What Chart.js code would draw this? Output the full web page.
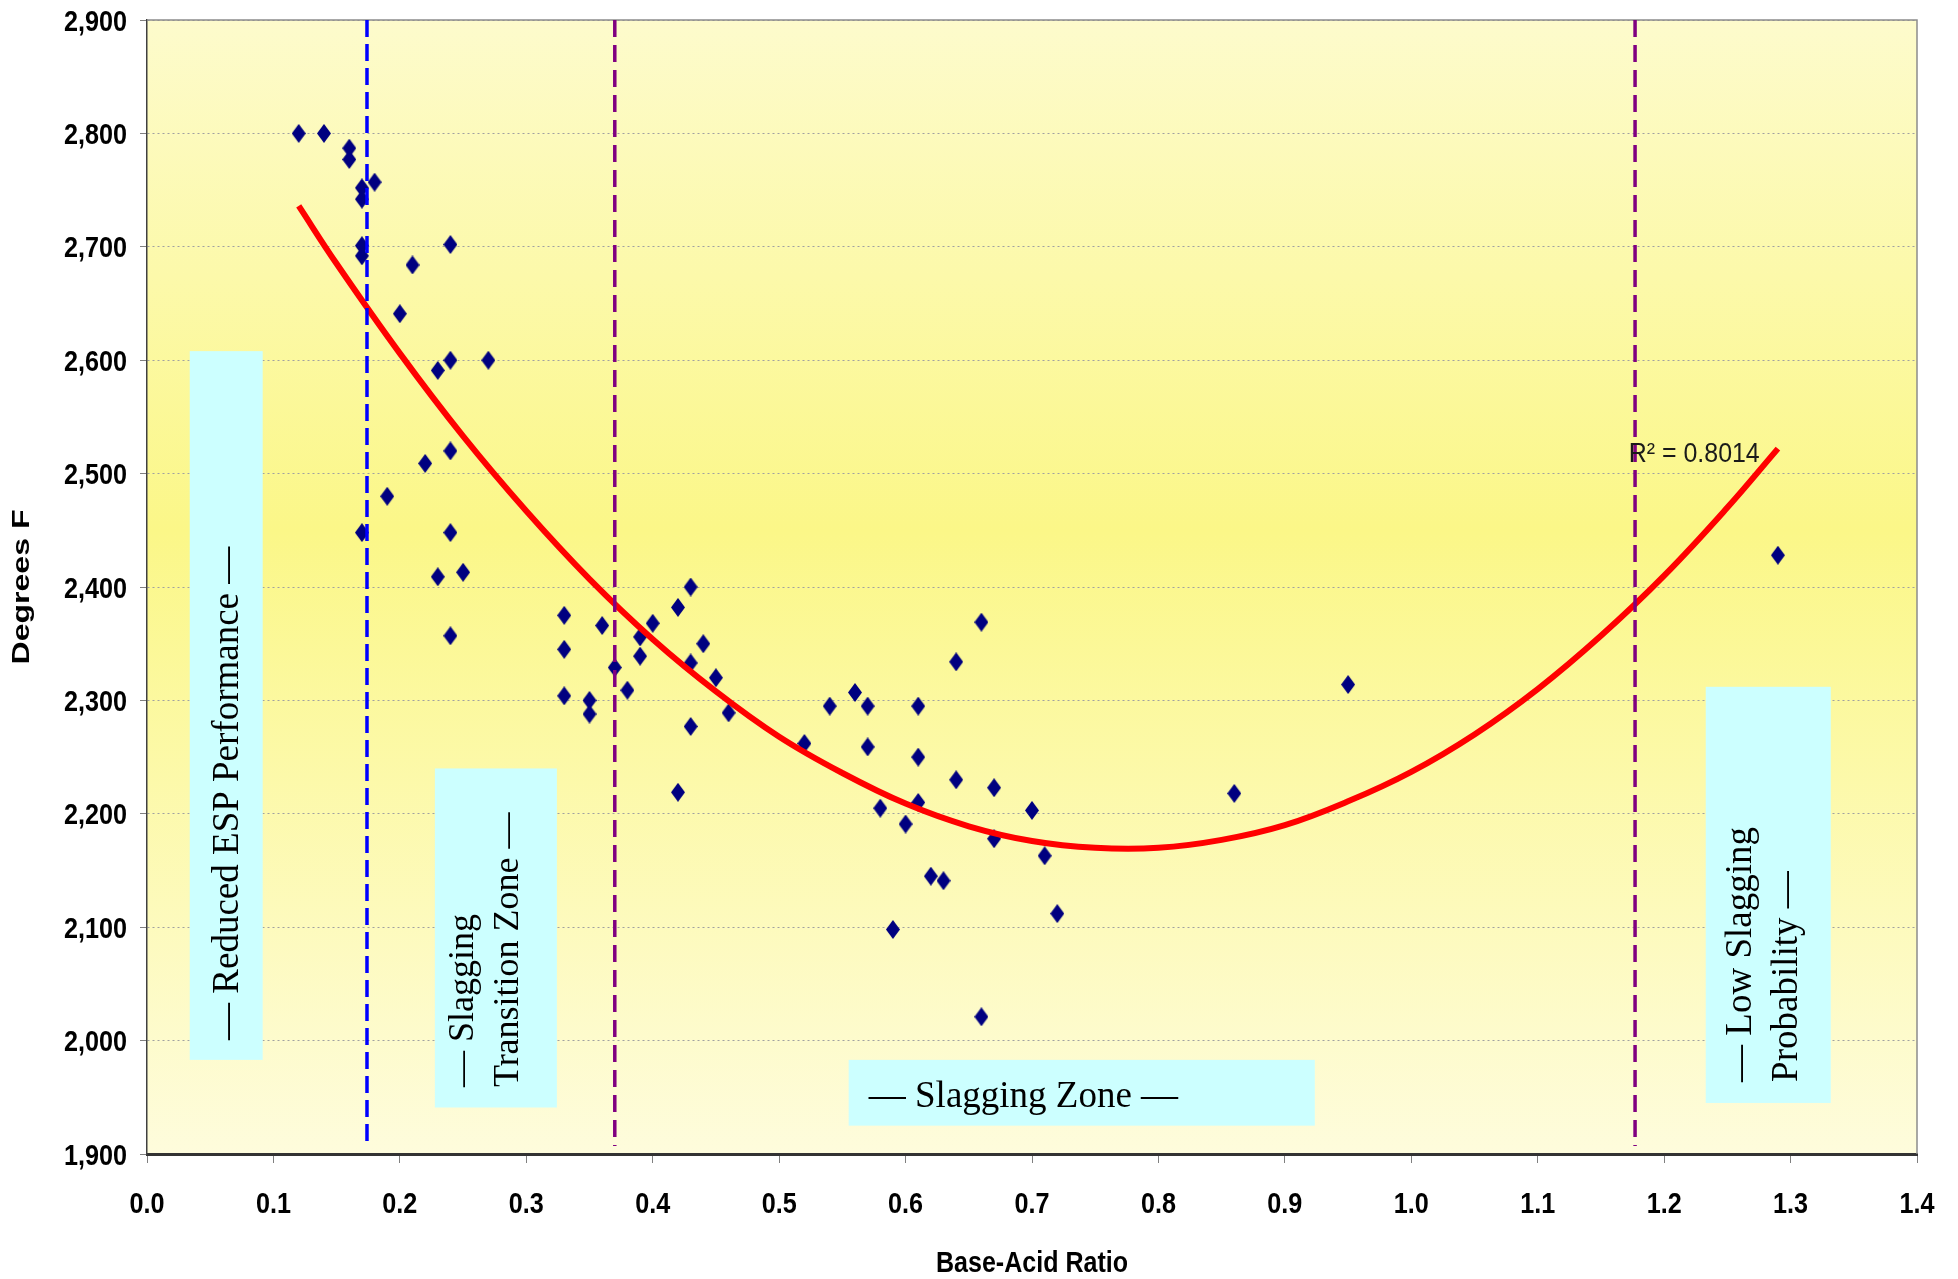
<!DOCTYPE html>
<html>
<head>
<meta charset="utf-8">
<title>Base-Acid Ratio vs Degrees F</title>
<script src="https://cdn.jsdelivr.net/npm/chart.js@4.4.1/dist/chart.umd.min.js"></script>
<style>
  html, body { margin:0; padding:0; background:#fff; }
  #wrap { width:1958px; height:1279px; position:relative; }
</style>
</head>
<body>
<div id="wrap"><canvas id="chart"></canvas></div>
<script>
// --- data ---
const ratioX = [0.12, 0.14, 0.16, 0.16, 0.17, 0.17, 0.18, 0.17, 0.17, 0.24,
                0.21, 0.20, 0.24, 0.23, 0.27, 0.22, 0.24, 0.19, 0.17, 0.24,
                0.23, 0.25, 0.24, 0.33, 0.33, 0.33, 0.36, 0.35, 0.35, 0.37,
                0.38, 0.39, 0.39, 0.40, 0.42, 0.43, 0.43, 0.44, 0.45, 0.46,
                0.43, 0.42, 0.52, 0.54, 0.56, 0.57, 0.57, 0.61, 0.61, 0.61,
                0.58, 0.60, 0.62, 0.63, 0.59, 0.64, 0.66, 0.64, 0.67, 0.67,
                0.70, 0.71, 0.72, 0.66, 0.86, 0.95, 1.29];
const degreesF = [2800, 2800, 2787, 2777, 2752, 2742, 2757, 2701, 2692, 2702,
                  2684, 2641, 2600, 2591, 2600, 2509, 2520, 2480, 2448, 2448,
                  2409, 2413, 2357, 2375, 2345, 2304, 2366, 2300, 2288, 2329,
                  2309, 2356, 2339, 2368, 2382, 2400, 2333, 2350, 2320, 2289,
                  2277, 2219, 2262, 2295, 2307, 2295, 2259, 2295, 2250, 2210,
                  2205, 2191, 2145, 2141, 2098, 2334, 2369, 2230, 2223, 2178,
                  2203, 2163, 2112, 2021, 2218, 2314, 2428];

// red trend curve
const fitX = [0.12, 0.15, 0.20, 0.25, 0.30, 0.35, 0.40, 0.45, 0.50, 0.55, 0.60, 0.65, 0.70,
              0.75, 0.80, 0.85, 0.90, 0.95, 1.00, 1.05, 1.10, 1.15, 1.20, 1.25, 1.29];
const fitF = [2736, 2685, 2606, 2533, 2467, 2407, 2354, 2308, 2268, 2236, 2209, 2189, 2176,
              2170, 2170, 2177, 2190, 2211, 2237, 2270, 2310, 2357, 2410, 2470, 2522];

// zone limits (vertical dashed lines) and their vertical span
const zoneLimits = [0.174, 0.37, 1.177];
const limitSpanF = [2900, 1907];

const xTickLabels = ['0.0','0.1','0.2','0.3','0.4','0.5','0.6','0.7','0.8','0.9','1.0','1.1','1.2','1.3','1.4'];
const yTickLabels = ['1,900','2,000','2,100','2,200','2,300','2,400','2,500','2,600','2,700','2,800','2,900'];

const zoneLabels = [
  ['— Reduced ESP Performance —'],
  ['— Slagging', 'Transition Zone —'],
  ['— Slagging Zone —'],
  ['— Low Slagging', 'Probability —']
];
const rSquaredLabel = 'R² = 0.8014';
const xTitle = 'Base-Acid Ratio';
const yTitle = 'Degrees F';

// --- layout of the label boxes (in axis units) ---
const zoneBoxes = [
  { x0:0.0338, x1:0.0915, y0:2608, y1:1983, rotated:true, baseX:[0.0717], startY:2000.6, size:37 },
  { x0:0.2277, x1:0.3242, y0:2240, y1:1941, rotated:true, baseX:[0.2577, 0.2933], startY:1959, size:36 },
  { x0:0.5550, x1:0.9237, y0:1983, y1:1925, rotated:false, startX:0.5709, baseY:1941.6, size:37 },
  { x0:1.2329, x1:1.3318, y0:2312, y1:1945, rotated:true, baseX:[1.2685, 1.3049], startY:1963.6, size:37 }
];

const serif = "'Liberation Serif', 'Times New Roman', serif";
const sans = "'Liberation Sans', Arial, sans-serif";

function diamond(w, h, color){
  const c = document.createElement('canvas');
  c.width = w; c.height = h;
  const g = c.getContext('2d');
  g.fillStyle = color;
  g.beginPath();
  g.moveTo(w/2, 0); g.lineTo(w, h/2); g.lineTo(w/2, h); g.lineTo(0, h/2);
  g.closePath(); g.fill();
  return c;
}

function vline(x){
  return [{x:x, y:limitSpanF[0]}, {x:x, y:limitSpanF[1]}];
}

// draws text squeezed/stretched along its run, like the resized original
function squeezed(ctx, text, x, y, font, sx, align, rotate){
  ctx.save();
  ctx.font = font;
  ctx.textAlign = align;
  ctx.textBaseline = 'alphabetic';
  ctx.translate(x, y);
  if(rotate) ctx.rotate(-Math.PI/2);
  ctx.scale(sx, 1);
  ctx.fillText(text, 0, 0);
  ctx.restore();
}

const zonePlugin = {
  id: 'zones',
  beforeDraw(chart){
    const {ctx, chartArea:a} = chart;
    const grad = ctx.createLinearGradient(0, a.top, 0, a.bottom);
    grad.addColorStop(0, '#fdfbcc');
    grad.addColorStop(0.45, '#fbf788');
    grad.addColorStop(1, '#fefcdc');
    ctx.save();
    ctx.fillStyle = grad;
    ctx.fillRect(a.left, a.top, a.right - a.left, a.bottom - a.top);
    ctx.restore();
  },
  beforeDatasetsDraw(chart){
    const {ctx, chartArea:a, scales:{x, y}} = chart;
    ctx.save();
    // frame top / right
    ctx.strokeStyle = '#8c8c8c';
    ctx.lineWidth = 1.5;
    ctx.beginPath();
    ctx.moveTo(a.left, a.top); ctx.lineTo(a.right, a.top); ctx.lineTo(a.right, a.bottom);
    ctx.stroke();

    zoneBoxes.forEach((b, i)=>{
      const px0 = x.getPixelForValue(b.x0), px1 = x.getPixelForValue(b.x1);
      const py0 = y.getPixelForValue(b.y0), py1 = y.getPixelForValue(b.y1);
      ctx.fillStyle = '#ccffff';
      ctx.fillRect(px0, py0, px1 - px0, py1 - py0);
      ctx.fillStyle = '#000';
      const font = b.size + 'px ' + serif;
      zoneLabels[i].forEach((line, j)=>{
        if(b.rotated){
          squeezed(ctx, line, x.getPixelForValue(b.baseX[j]), y.getPixelForValue(b.startY), font, 1, 'left', true);
        }else{
          squeezed(ctx, line, x.getPixelForValue(b.startX), y.getPixelForValue(b.baseY), font, 1, 'left', false);
        }
      });
    });
    ctx.restore();
  },
  afterDraw(chart){
    const {ctx, scales:{x, y}, chartArea:a} = chart;
    ctx.save();
    ctx.fillStyle = '#000';
    const tickFont = 'bold 30px ' + sans;
    // tick labels through the scales' own ticks, narrowed like the reference
    x.ticks.forEach((t, i)=>{
      squeezed(ctx, xTickLabels[i], x.getPixelForTick(i), 1213, tickFont, 0.84, 'center', false);
    });
    y.ticks.forEach((t, i)=>{
      squeezed(ctx, yTickLabels[i], 127, y.getPixelForTick(i) + 10.5, tickFont, 0.84, 'right', false);
    });
    // axis titles
    ctx.font = 'bold 29px ' + sans;
    const wx = ctx.measureText(xTitle).width;
    squeezed(ctx, xTitle, (a.left + a.right) / 2, 1272, ctx.font, 192 / wx, 'center', false);
    ctx.font = 'bold 23px ' + sans;
    const wy = ctx.measureText(yTitle).width;
    squeezed(ctx, yTitle, 29, (a.top + a.bottom) / 2, ctx.font, 155 / wy, 'center', true);
    // R squared
    ctx.fillStyle = '#1a1a1a';
    ctx.font = '27px ' + sans;
    const wr = ctx.measureText(rSquaredLabel).width;
    squeezed(ctx, rSquaredLabel, x.getPixelForValue(1.172), y.getPixelForValue(2510), ctx.font, 131 / wr, 'left', false);
    ctx.restore();
  }
};

new Chart(document.getElementById('chart'), {
  type: 'scatter',
  data: {
    datasets: [
      { label:'limit 1', data: vline(zoneLimits[0]), showLine:true, borderColor:'#0000ff', borderWidth:3.5,
        borderDash:[17,7], pointRadius:0, order:0 },
      { label:'limit 2', data: vline(zoneLimits[1]), showLine:true, borderColor:'#800080', borderWidth:3.5,
        borderDash:[17,8], pointRadius:0, order:0 },
      { label:'limit 3', data: vline(zoneLimits[2]), showLine:true, borderColor:'#800080', borderWidth:3.5,
        borderDash:[17,8], pointRadius:0, order:0 },
      { label:'Poly. fit', data: fitX.map((v,i)=>({x:v, y:fitF[i]})), showLine:true, borderColor:'#ff0000',
        borderWidth:6, tension:0.4, pointRadius:0, order:1 },
      { label:'Samples', data: ratioX.map((v,i)=>({x:v, y:degreesF[i]})), pointStyle: diamond(14, 19, '#000080'),
        pointRadius:9, backgroundColor:'#000080', order:2 }
    ]
  },
  options: {
    responsive: true,
    maintainAspectRatio: false,
    animation: false,
    events: [],
    layout: { padding: { left:0, right:41, top:20, bottom:0 } },
    plugins: { legend:{ display:false }, tooltip:{ enabled:false } },
    scales: {
      x: {
        type:'linear', min:0, max:1.4,
        ticks:{ stepSize:0.1, autoSkip:false, display:false },
        grid:{ drawOnChartArea:false, tickLength:9, tickColor:'#808080', tickWidth:1 },
        border:{ color:'#333', width:3 },
        afterFit(s){ s.height = 125; }
      },
      y: {
        min:1900, max:2900,
        ticks:{ stepSize:100, display:false },
        grid:{ color:'#a0a0a0', lineWidth:1, tickLength:7, tickColor:'#808080' },
        border:{ color:'#404040', width:1.5, dash:[2,3] },
        afterFit(s){ s.width = 147; }
      }
    }
  },
  plugins: [zonePlugin]
});
</script>
</body>
</html>
